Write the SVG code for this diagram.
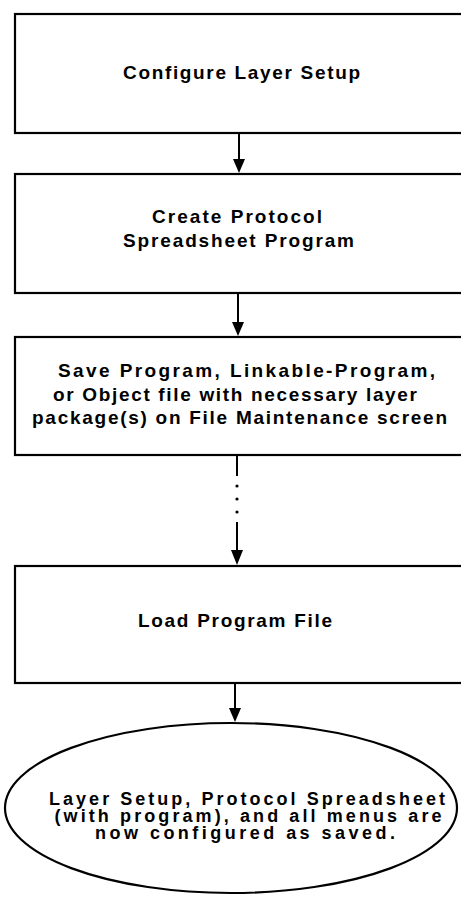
<svg xmlns="http://www.w3.org/2000/svg" width="461" height="905" viewBox="0 0 461 905">
  <defs>
    <style>
      .box { fill: #fff; stroke: #000; stroke-width: 2.2; }
      .conn { fill: none; stroke: #000; stroke-width: 2; }
      .dot { fill: #000; }
      .t { font-family: "Liberation Sans", Arial, Helvetica, sans-serif; font-weight: bold; font-size: 19px; fill: #000; text-anchor: middle; }
      .e { font-size: 18px; }
    </style>
  </defs>
  <rect width="461" height="905" fill="#fff"/>

  <g id="connectors">
    <line class="conn" x1="239" y1="133" x2="239" y2="160"/>
    <path d="M233,159 L245,159 L239,173 Z" class="dot"/>
    <line class="conn" x1="238" y1="293" x2="238" y2="323"/>
    <path d="M232,322 L244,322 L238,336 Z" class="dot"/>
    <line class="conn" x1="237" y1="455" x2="237" y2="476"/>
    <circle class="dot" cx="237" cy="486" r="1.6"/>
    <circle class="dot" cx="237" cy="499" r="1.6"/>
    <circle class="dot" cx="237" cy="512" r="1.6"/>
    <line class="conn" x1="237" y1="522" x2="237" y2="551"/>
    <path d="M231,550 L243,550 L237,565 Z" class="dot"/>
    <line class="conn" x1="235" y1="683" x2="235" y2="709"/>
    <path d="M229,708 L241,708 L235,722 Z" class="dot"/>
  </g>

  <g id="node-configure">
    <rect class="box" x="15" y="14" width="460" height="119"/>
    <text class="t" x="241.5" y="79" textLength="237" lengthAdjust="spacing">Configure Layer Setup</text>
  </g>

  <g id="node-create">
    <rect class="box" x="15" y="174" width="460" height="119"/>
    <text class="t" x="237" y="223" textLength="170" lengthAdjust="spacing">Create Protocol</text>
    <text class="t" x="238.5" y="247" textLength="231" lengthAdjust="spacing">Spreadsheet Program</text>
  </g>

  <g id="node-save">
    <rect class="box" x="15" y="337" width="460" height="118"/>
    <text class="t" x="246.5" y="377" textLength="377" lengthAdjust="spacing">Save Program, Linkable-Program,</text>
    <text class="t" x="235" y="401" textLength="364" lengthAdjust="spacing">or Object file with necessary layer</text>
    <text class="t" x="239.5" y="424" textLength="415" lengthAdjust="spacing">package(s) on File Maintenance screen</text>
  </g>

  <g id="node-load">
    <rect class="box" x="15" y="566" width="460" height="117"/>
    <text class="t" x="235" y="627" textLength="194" lengthAdjust="spacing">Load Program File</text>
  </g>

  <g id="node-result">
    <ellipse class="box" cx="231" cy="808" rx="226" ry="85"/>
    <text class="t e" x="247" y="805" textLength="396" lengthAdjust="spacing">Layer Setup, Protocol Spreadsheet</text>
    <text class="t e" x="248" y="822" textLength="387" lengthAdjust="spacing">(with program), and all menus are</text>
    <text class="t e" x="245" y="839" textLength="300" lengthAdjust="spacing">now configured as saved.</text>
  </g>
</svg>
